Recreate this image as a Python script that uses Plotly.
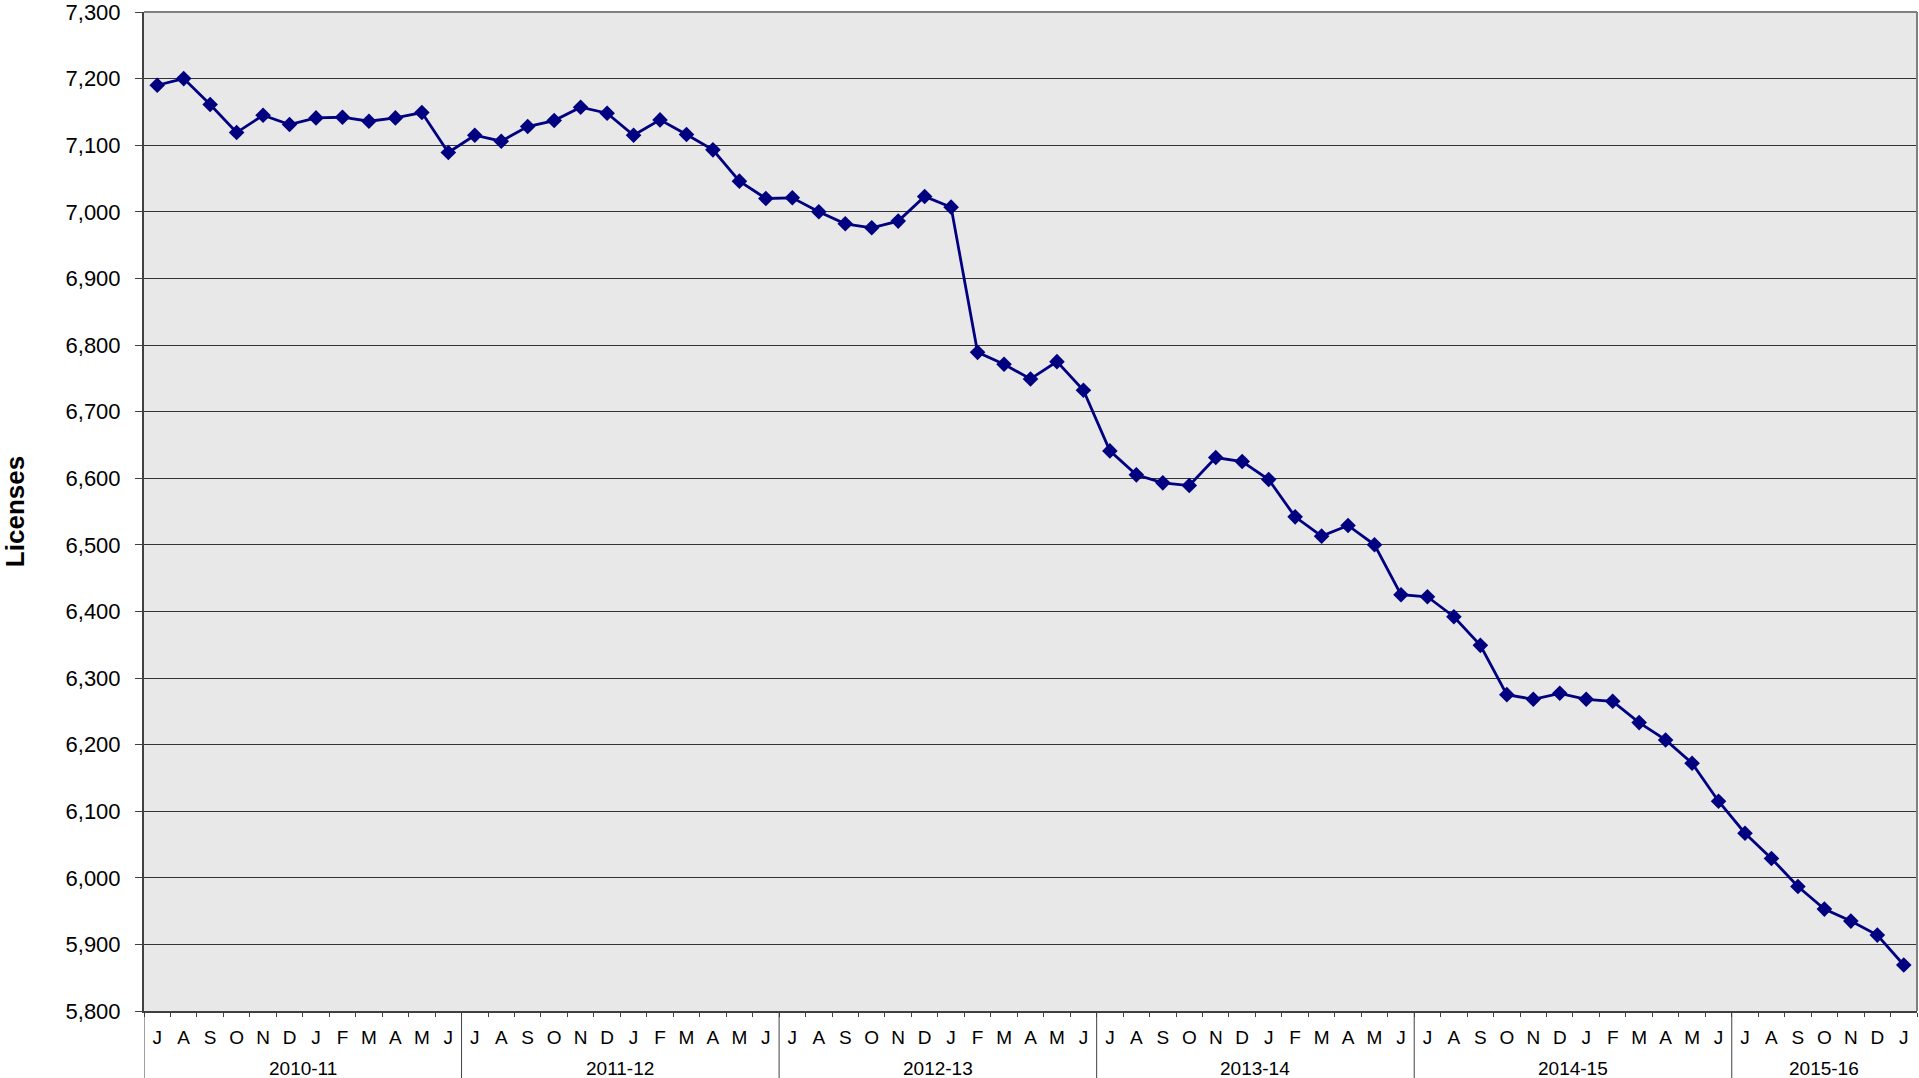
import plotly.graph_objects as go

# ---- data ----
fiscal_years = ["2010-11", "2011-12", "2012-13", "2013-14", "2014-15", "2015-16"]
month_letters = ["J", "A", "S", "O", "N", "D", "J", "F", "M", "A", "M", "J"]
licenses = [
    # 2010-11
    7190, 7200, 7161, 7119, 7145, 7131, 7141, 7142, 7136, 7141, 7149, 7089,
    # 2011-12
    7115, 7106, 7128, 7137, 7157, 7148, 7115, 7138, 7116, 7093, 7046, 7020,
    # 2012-13
    7021, 7000, 6982, 6976, 6986, 7023, 7007, 6789, 6771, 6749, 6775, 6732,
    # 2013-14
    6641, 6605, 6593, 6589, 6631, 6625, 6598, 6542, 6513, 6529, 6500, 6425,
    # 2014-15
    6422, 6392, 6349, 6275, 6268, 6277, 6268, 6265, 6233, 6207, 6172, 6115,
    # 2015-16
    6067, 6029, 5987, 5953, 5935, 5914, 5869,
]
y_min, y_max, y_step = 5800, 7300, 100

n = len(licenses)
idx = list(range(n))
tick_text = [month_letters[i % 12] for i in idx]

FONT = "Liberation Sans, Arial, sans-serif"
AX = "#404040"

fig = go.Figure()
fig.add_trace(go.Scatter(
    x=idx,
    y=licenses,
    mode="lines+markers",
    line=dict(color="#000080", width=2.8),
    marker=dict(symbol="diamond", size=12, color="#000080"),
    showlegend=False,
))

# year group labels and dividers
annotations = []
shapes = []
for g, fy in enumerate(fiscal_years):
    start = g * 12
    end = min(start + 12, n) - 1
    annotations.append(dict(
        x=(start + end) / 2, xref="x", y=0, yref="paper",
        yanchor="middle", yshift=-57, showarrow=False,
        text=fy, font=dict(size=19, family=FONT, color="black"),
    ))
    shapes.append(dict(
        type="line", xref="x", yref="paper",
        x0=start - 0.5, x1=start - 0.5, y0=0, y1=-0.07,
        line=dict(color=AX, width=1),
    ))

# frame top / right
shapes += [
    dict(type="line", xref="paper", yref="paper", x0=0, x1=1, y0=1, y1=1,
         line=dict(color="#808080", width=2)),
    dict(type="line", xref="paper", yref="paper", x0=1, x1=1, y0=0, y1=1,
         line=dict(color="#808080", width=2)),
]

fig.update_layout(
    width=1919, height=1078,
    margin=dict(l=144, r=2, t=12, b=67),
    paper_bgcolor="white",
    plot_bgcolor="#e8e8e8",
    font=dict(family=FONT, color="black"),
    xaxis=dict(
        range=[-0.5, n - 0.5],
        tickmode="array", tickvals=idx, ticktext=tick_text,
        ticks="", ticklabelstandoff=8,
        tickfont=dict(size=19, family=FONT),
        minor=dict(tickmode="linear", tick0=-0.5, dtick=1, ticks="outside",
                   ticklen=4, tickcolor=AX, showgrid=False),
        showline=True, linecolor=AX, linewidth=2,
        showgrid=False, zeroline=False,
        automargin=False,
    ),
    yaxis=dict(
        range=[y_min, y_max],
        dtick=y_step,
        tick0=y_min,
        tickformat=",",
        showline=True, linecolor=AX, linewidth=2,
        ticks="outside", ticklen=7, tickcolor=AX,
        tickfont=dict(size=22, family=FONT),
        ticklabelstandoff=10,
        ticklabeloverflow="allow",
        showgrid=True, gridcolor="#333333", gridwidth=1,
        zeroline=False,
        title=dict(text="<b>Licenses</b>", font=dict(size=26, family=FONT), standoff=51),
        automargin=False,
    ),
    annotations=annotations,
    shapes=shapes,
)

fig.write_html(
    "out.html",
    config={"displayModeBar": False},
    post_script="document.body.style.margin='0';document.body.style.overflow='hidden';",
)
